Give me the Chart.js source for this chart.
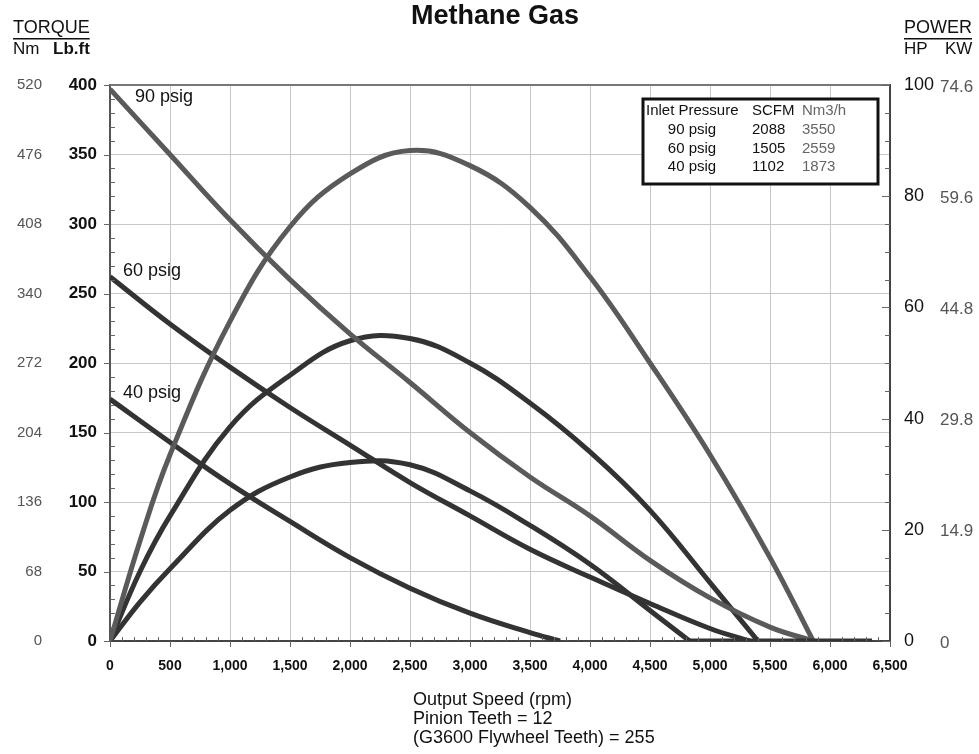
<!DOCTYPE html>
<html>
<head>
<meta charset="utf-8">
<script src="https://cdn.jsdelivr.net/npm/chart.js@4/dist/chart.umd.min.js"></script>
<style>
  html, body { margin: 0; padding: 0; background: #fff; }
  #chart { display: block; }
</style>
</head>
<body>
<canvas id="chart" width="979" height="754"></canvas>
<script>
// values (rpm, lb.ft / HP)
const speedTorque90 = [0, 500, 1000, 1500, 2000, 2500, 3000, 3500, 4000, 4500, 5000, 5500, 5860];
const torque90 = [397, 350, 303, 260, 221, 186, 150, 118, 90, 58, 31, 10, 0];

const speedPower90 = [0, 250, 500, 1000, 1500, 2000, 2500, 3000, 3500, 4000, 4500, 5000, 5500, 5860];
const power90 = [0, 18, 33.5, 57.5, 74.5, 84, 88.2, 85.5, 78, 65.5, 50, 33.5, 15, 0];

const speedTorque60 = [0, 500, 1000, 1500, 2000, 2500, 3000, 3500, 4000, 4500, 5000, 5330];
const torque60 = [262, 228, 197, 168, 141, 114, 90, 66, 46, 27, 9, 0];

const speedPower60 = [0, 250, 500, 1000, 1500, 2000, 2500, 3000, 3500, 4000, 4500, 5000, 5400];
const power60 = [0, 12.5, 22.5, 38.5, 47.8, 54, 54.4, 50, 42.8, 34, 23.5, 10.5, 0];

const speedTorque40 = [0, 500, 1000, 1500, 2000, 2500, 3000, 3500, 3750];
const torque40 = [174, 143, 113, 86, 60, 38, 20, 6, 0];

const speedPower40 = [0, 250, 500, 1000, 1500, 2000, 2500, 3000, 3500, 4000, 4500, 4830];
const power40 = [0, 7, 13, 23.5, 29.5, 32.1, 31.7, 27, 20.8, 13.8, 5.5, 0];

// curves run on along the zero line after they end
const speedTail = [4830, 6350];
const powerTail = [0, 0];

const nmLabels = ["0", "68", "136", "204", "272", "340", "408", "476", "520"];
const kwLabels = ["0", "14.9", "29.8", "44.8", "59.6", "74.6"];

const tableHeader = ["Inlet Pressure", "SCFM", "Nm3/h"];
const tablePressure = ["90 psig", "60 psig", "40 psig"];
const tableScfm = ["2088", "1505", "1102"];
const tableNm3h = ["3550", "2559", "1873"];

const FONT = "'Liberation Sans', Arial, sans-serif";
const GRAY = "#5a5a5a";
const DARK = "#333333";

function toPoints(xs, ys) {
    return xs.map((x, i) => ({ x: x, y: ys[i] }));
}

function line(label, xs, ys, color, axis) {
    return {
        label,
        data: toPoints(xs, ys),
        yAxisID: axis,
        borderColor: color,
        borderWidth: 5,
        pointRadius: 0,
        fill: false,
        tension: 0.4
    };
}

const decorations = {
    id: "decorations",
    afterDraw(chart) {
        const ctx = chart.ctx;
        const area = chart.chartArea;
        const x = chart.scales.x;
        const y = chart.scales.y;
        const y2 = chart.scales.y2;

        ctx.save();

        // top border
        ctx.strokeStyle = "#777";
        ctx.lineWidth = 2;
        ctx.beginPath();
        ctx.moveTo(area.left, area.top);
        ctx.lineTo(area.right, area.top);
        ctx.stroke();

        // minor ticks
        ctx.strokeStyle = "#666";
        ctx.lineWidth = 1;
        ctx.beginPath();
        for (let v = 0; v <= 6500; v += 100) {
            const px = Math.round(x.getPixelForValue(v)) + 0.5;
            if (v % 500 === 0) {
                ctx.moveTo(px, area.bottom);
                ctx.lineTo(px, area.bottom + 6);
            } else {
                ctx.moveTo(px, area.bottom);
                ctx.lineTo(px, area.bottom - 4);
            }
        }
        for (let v = 0; v <= 400; v += 10) {
            const py = Math.round(y.getPixelForValue(v)) + 0.5;
            if (v % 50 === 0) {
                ctx.moveTo(area.left - 6, py);
                ctx.lineTo(area.left, py);
            } else {
                ctx.moveTo(area.left, py);
                ctx.lineTo(area.left + 5, py);
            }
        }
        for (let v = 0; v <= 100; v += 5) {
            const py = Math.round(y2.getPixelForValue(v)) + 0.5;
            const len = v % 20 === 0 ? 8 : 5;
            ctx.moveTo(area.right - len, py);
            ctx.lineTo(area.right, py);
        }
        ctx.stroke();

        // title
        ctx.fillStyle = "#111";
        ctx.textBaseline = "middle";
        ctx.textAlign = "center";
        ctx.font = "bold 27px " + FONT;
        ctx.fillText("Methane Gas", 495, 17);

        // axis headers
        ctx.textAlign = "left";
        ctx.font = "18px " + FONT;
        ctx.fillText("TORQUE", 13, 28);
        ctx.fillText("POWER", 904, 28);
        ctx.fillRect(13, 38, ctx.measureText("TORQUE").width, 1.5);
        ctx.fillRect(904, 38, ctx.measureText("POWER").width, 1.5);
        ctx.font = "17px " + FONT;
        ctx.fillText("Nm", 13, 49);
        ctx.fillText("HP", 904, 49);
        ctx.fillText("KW", 945, 49);
        ctx.font = "bold 17px " + FONT;
        ctx.fillText("Lb.ft", 53, 49);

        // Nm and KW columns
        ctx.font = "15px " + FONT;
        ctx.fillStyle = "#555";
        ctx.textAlign = "right";
        nmLabels.forEach((t, i) => {
            ctx.fillText(t, 42, y.getPixelForValue(i * 50));
        });
        ctx.textAlign = "left";
        ctx.font = "17px " + FONT;
        kwLabels.forEach((t, i) => {
            ctx.fillText(t, 940, y2.getPixelForValue(i * 20) + 2);
        });

        // curve labels
        ctx.fillStyle = "#111";
        ctx.font = "18px " + FONT;
        ctx.fillText("90 psig", 135, 97);
        ctx.fillText("60 psig", 123, 271);
        ctx.fillText("40 psig", 123, 393);

        // x axis title
        ctx.fillText("Output Speed (rpm)", 413, 700);
        ctx.fillText("Pinion Teeth = 12", 413, 719);
        ctx.fillText("(G3600 Flywheel Teeth) = 255", 413, 738);

        // inlet pressure table
        ctx.fillStyle = "#fff";
        ctx.fillRect(643, 99, 235, 85);
        ctx.strokeStyle = "#111";
        ctx.lineWidth = 3;
        ctx.strokeRect(643, 99, 235, 85);
        ctx.font = "15px " + FONT;
        ctx.fillStyle = "#111";
        ctx.textAlign = "left";
        ctx.fillText(tableHeader[0], 646, 111);
        ctx.fillText(tableHeader[1], 752, 111);
        ctx.fillStyle = "#666";
        ctx.fillText(tableHeader[2], 802, 111);
        const rowY = [130, 149, 167];
        tablePressure.forEach((t, i) => {
            ctx.fillStyle = "#111";
            ctx.textAlign = "center";
            ctx.fillText(t, 692, rowY[i]);
            ctx.textAlign = "left";
            ctx.fillText(tableScfm[i], 752, rowY[i]);
            ctx.fillStyle = "#666";
            ctx.fillText(tableNm3h[i], 802, rowY[i]);
        });

        ctx.restore();
    }
};

new Chart(document.getElementById("chart"), {
    type: "line",
    data: {
        datasets: [
            line("tail", speedTail, powerTail, DARK, "y2"),
            line("90 psig torque", speedTorque90, torque90, GRAY, "y"),
            line("90 psig power", speedPower90, power90, GRAY, "y2"),
            line("60 psig torque", speedTorque60, torque60, DARK, "y"),
            line("60 psig power", speedPower60, power60, DARK, "y2"),
            line("40 psig torque", speedTorque40, torque40, DARK, "y"),
            line("40 psig power", speedPower40, power40, DARK, "y2")
        ]
    },
    options: {
        responsive: false,
        animation: false,
        devicePixelRatio: 1,
        layout: { padding: { top: 85, left: 0, right: 0, bottom: 0 } },
        plugins: {
            legend: { display: false },
            tooltip: { enabled: false }
        },
        scales: {
            x: {
                type: "linear",
                min: 0,
                max: 6500,
                afterFit: (s) => { s.height = 113; },
                ticks: {
                    stepSize: 500,
                    padding: 17,
                    maxRotation: 0,
                    autoSkip: false,
                    color: "#111",
                    font: { family: FONT, size: 14, weight: "bold" },
                    callback: (v) => v.toLocaleString("en-US")
                },
                grid: { color: "#c8c8c8", lineWidth: 1, drawTicks: false },
                border: { color: "#444", width: 2 }
            },
            y: {
                position: "left",
                min: 0,
                max: 400,
                afterFit: (s) => { s.width = 110; },
                ticks: {
                    stepSize: 50,
                    padding: 13,
                    color: "#111",
                    font: { family: FONT, size: 17, weight: "bold" }
                },
                grid: { color: "#c8c8c8", lineWidth: 1, drawTicks: false },
                border: { color: "#555", width: 2 }
            },
            y2: {
                position: "right",
                min: 0,
                max: 100,
                afterFit: (s) => { s.width = 89; },
                ticks: {
                    stepSize: 20,
                    padding: 14,
                    color: "#111",
                    font: { family: FONT, size: 18 }
                },
                grid: { display: false, drawTicks: false },
                border: { color: "#444", width: 2 }
            }
        }
    },
    plugins: [decorations]
});
</script>
</body>
</html>
